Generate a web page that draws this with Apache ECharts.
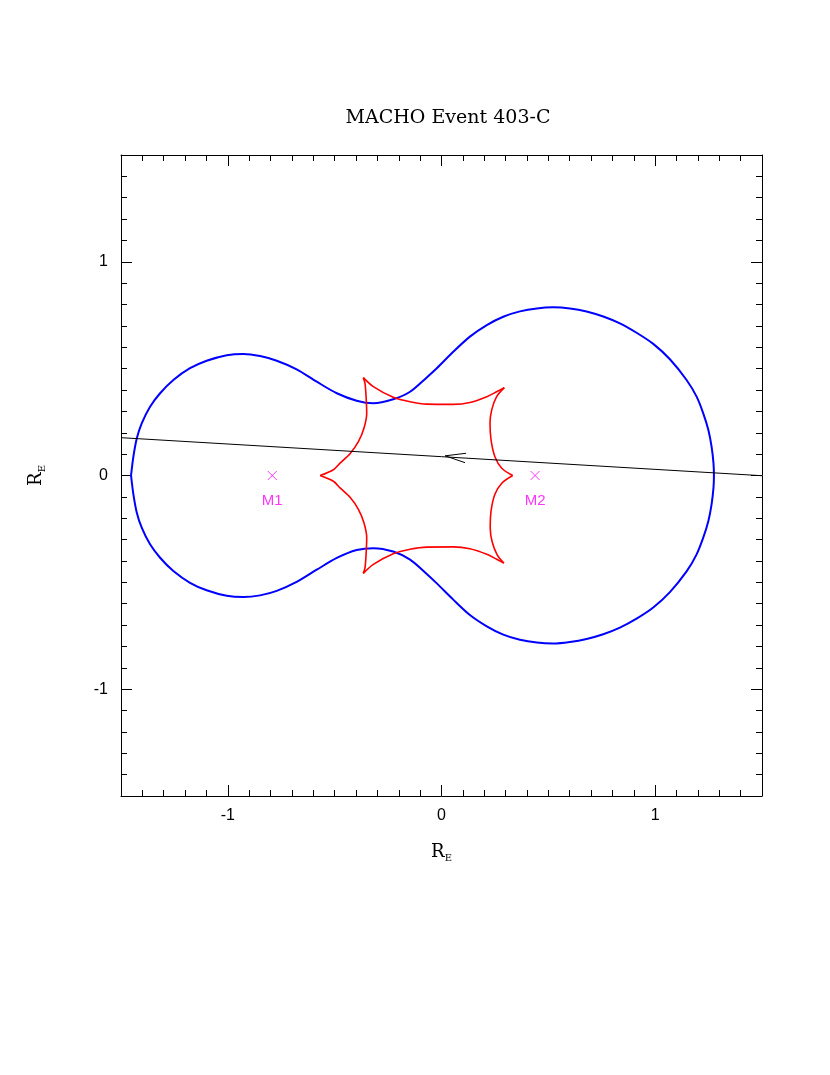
<!DOCTYPE html>
<html>
<head>
<meta charset="utf-8">
<script src="https://cdn.jsdelivr.net/npm/echarts@6/dist/echarts.min.js"></script>
<style>
  html, body { margin: 0; padding: 0; background: #fff; }
  #main { width: 830px; height: 1075px; }
</style>
</head>
<body>
<div id="main"></div>
<script>
// critical curve (blue), one closed loop
const criticalCurve = [
  [-1.453, 0], [-1.442, 0.088], [-1.426, 0.174], [-1.403, 0.244], [-1.364, 0.322],
  [-1.317, 0.385], [-1.255, 0.447], [-1.177, 0.502], [-1.099, 0.537], [-1.005, 0.563],
  [-0.927, 0.569], [-0.849, 0.559], [-0.771, 0.537], [-0.678, 0.497], [-0.584, 0.439],
  [-0.490, 0.385], [-0.397, 0.350], [-0.319, 0.338], [-0.226, 0.357], [-0.147, 0.392],
  [-0.069, 0.459], [-0.022, 0.502], [0.055, 0.579], [0.133, 0.650], [0.212, 0.704],
  [0.289, 0.743], [0.367, 0.768], [0.446, 0.782], [0.523, 0.787], [0.601, 0.782],
  [0.679, 0.768], [0.757, 0.744], [0.835, 0.712], [0.913, 0.668], [0.991, 0.616],
  [1.069, 0.544], [1.147, 0.447], [1.194, 0.369], [1.225, 0.291], [1.249, 0.213],
  [1.264, 0.135], [1.273, 0.057], [1.275, 0],
  [1.273, -0.057], [1.264, -0.135], [1.249, -0.213], [1.225, -0.291], [1.194, -0.369],
  [1.147, -0.449], [1.069, -0.546], [0.991, -0.618], [0.913, -0.670], [0.835, -0.712],
  [0.757, -0.743], [0.679, -0.765], [0.601, -0.779], [0.523, -0.786], [0.446, -0.782],
  [0.367, -0.769], [0.289, -0.745], [0.212, -0.706], [0.133, -0.653], [0.055, -0.581],
  [-0.022, -0.505], [-0.069, -0.461], [-0.147, -0.394], [-0.226, -0.356], [-0.319, -0.340],
  [-0.397, -0.349], [-0.490, -0.386], [-0.584, -0.441], [-0.678, -0.498], [-0.771, -0.540],
  [-0.849, -0.561], [-0.927, -0.569], [-1.005, -0.563], [-1.099, -0.537], [-1.177, -0.502],
  [-1.255, -0.447], [-1.317, -0.385], [-1.364, -0.322], [-1.403, -0.244], [-1.426, -0.174],
  [-1.442, -0.088], [-1.453, 0]
];

// caustic (red), one array per arc between cusps
const causticLeftUp = [
  [-0.568, 0], [-0.506, 0.027], [-0.475, 0.058], [-0.428, 0.102], [-0.389, 0.158],
  [-0.363, 0.221], [-0.350, 0.291], [-0.353, 0.369], [-0.358, 0.431], [-0.366, 0.458]
];
const causticTop = [
  [-0.366, 0.458], [-0.319, 0.416], [-0.226, 0.366], [-0.147, 0.345], [-0.069, 0.334],
  [0.055, 0.333], [0.133, 0.342], [0.212, 0.369], [0.258, 0.392], [0.294, 0.411]
];
const causticRightUp = [
  [0.294, 0.411], [0.258, 0.369], [0.235, 0.307], [0.227, 0.244], [0.232, 0.166],
  [0.250, 0.088], [0.282, 0.034], [0.333, 0]
];
const causticRightDown = [
  [0.333, 0], [0.282, -0.036], [0.250, -0.088], [0.232, -0.166], [0.228, -0.247],
  [0.237, -0.310], [0.260, -0.370], [0.292, -0.410]
];
const causticBottom = [
  [0.292, -0.410], [0.258, -0.392], [0.212, -0.369], [0.133, -0.343], [0.055, -0.334],
  [-0.069, -0.335], [-0.147, -0.345], [-0.226, -0.366], [-0.319, -0.416], [-0.366, -0.458]
];
const causticLeftDown = [
  [-0.366, -0.458], [-0.358, -0.431], [-0.353, -0.369], [-0.350, -0.291], [-0.363, -0.221],
  [-0.389, -0.158], [-0.428, -0.102], [-0.475, -0.058], [-0.506, -0.027], [-0.568, 0]
];

// source trajectory and its arrow head
const trajectory = [[-1.5, 0.177], [1.5, -0.001]];
const arrowHead = [[0.115, 0.104], [0.017, 0.092], [0.110, 0.060]];

// lens masses
const masses = [
  { name: 'M1', value: [-0.792, 0] },
  { name: 'M2', value: [0.438, 0] }
];

// labelled (major) ticks
const majorTicks = [-1, 0, 1];

const chart = echarts.init(document.getElementById('main'), null, { renderer: 'canvas' });

function labelFmt(v) {
  for (const t of majorTicks) {
    if (Math.abs(v - t) < 1e-6) return String(t);
  }
  return '';
}

const nameRich = {
  r: { fontFamily: 'DejaVu Serif', fontSize: 18, color: '#000' },
  e: { fontFamily: 'DejaVu Serif', fontSize: 10, color: '#000', padding: [11, 0, 0, 0] }
};

// one axis with short ticks every 0.1, one with long ticks on the integers
function minorAxis(pos, extra) {
  return Object.assign({
    type: 'value', position: pos, min: -1.5, max: 1.5, interval: 0.1,
    axisLine: { show: true, onZero: false, lineStyle: { color: '#000', width: 1 } },
    axisTick: { show: true, inside: true, length: 6, lineStyle: { color: '#000' } },
    axisLabel: { show: false },
    splitLine: { show: false }
  }, extra || {});
}
function majorAxis(pos) {
  return {
    type: 'value', position: pos, min: -1.5, max: 1.5,
    axisLine: { show: false, onZero: false },
    axisTick: { show: true, inside: true, length: 11, customValues: majorTicks, lineStyle: { color: '#000' } },
    axisLabel: { show: false },
    splitLine: { show: false }
  };
}

const option = {
  animation: false,
  backgroundColor: '#fff',
  title: {
    text: 'MACHO Event 403-C',
    left: 443,
    textAlign: 'center',
    top: 104,
    textStyle: { fontFamily: 'DejaVu Serif', fontSize: 19, fontWeight: 'normal', color: '#000' }
  },
  grid: { left: 121, top: 155, width: 641, height: 641 },
  xAxis: [
    minorAxis('bottom', {
      axisLabel: {
        show: true, margin: 12, color: '#000', fontFamily: 'Liberation Sans', fontSize: 16,
        formatter: labelFmt
      },
      name: '{r|R}{e|E}',
      nameLocation: 'middle',
      nameGap: 46,
      nameTextStyle: { rich: nameRich }
    }),
    majorAxis('bottom'),
    minorAxis('top'),
    majorAxis('top')
  ],
  yAxis: [
    minorAxis('left', {
      axisLabel: {
        show: true, margin: 13, color: '#000', fontFamily: 'Liberation Sans', fontSize: 16,
        formatter: labelFmt
      },
      name: '{r|R}{e|E}',
      nameLocation: 'middle',
      nameGap: 74,
      nameRotate: 90,
      nameTextStyle: { rich: nameRich }
    }),
    majorAxis('left'),
    minorAxis('right'),
    majorAxis('right')
  ],
  series: [
    {
      type: 'line', data: criticalCurve, smooth: 0.3, showSymbol: false, silent: true,
      lineStyle: { color: '#0000ff', width: 2 }
    }
  ].concat([causticLeftUp, causticTop, causticRightUp, causticRightDown, causticBottom, causticLeftDown].map(arc => ({
      type: 'line', data: arc, smooth: 0.3, showSymbol: false, silent: true,
      lineStyle: { color: '#ff0000', width: 1.6 }
  }))).concat([
    {
      type: 'line', data: trajectory, showSymbol: false, silent: true,
      lineStyle: { color: '#000', width: 1 }
    },
    {
      type: 'line', data: arrowHead, showSymbol: false, silent: true,
      lineStyle: { color: '#000', width: 1 }
    },
    {
      type: 'scatter', data: masses, silent: true,
      symbol: 'path://M0,0L10,10M10,0L0,10',
      symbolSize: 9,
      itemStyle: { color: 'rgba(0,0,0,0)', borderColor: '#ff00ff', borderWidth: 1 },
      label: {
        show: true, position: 'bottom', distance: 13, formatter: '{b}',
        color: '#ff00ff', fontFamily: 'Liberation Sans', fontSize: 15
      }
    }
  ])
};

chart.setOption(option);
</script>
</body>
</html>
